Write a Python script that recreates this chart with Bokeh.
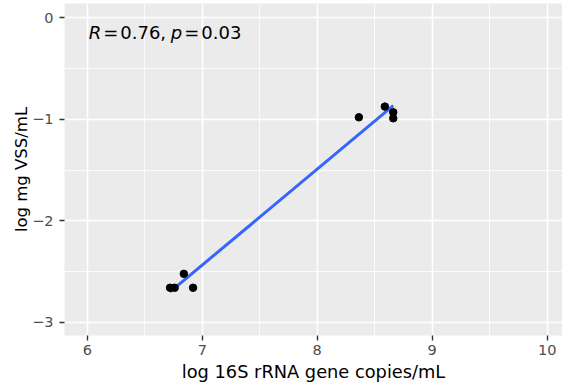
import numpy as np
from bokeh.plotting import figure
from bokeh.models import Range1d, FixedTicker
from bokeh.core.properties import value
from bokeh.embed import file_html
from bokeh.resources import INLINE

# data
x_vals = [6.72, 6.76, 6.84, 6.92, 8.362, 8.588, 8.661, 8.661]
y_vals = [-2.658, -2.658, -2.521, -2.658, -0.980, -0.875, -0.931, -0.990]
x_ticks = [6, 7, 8, 9, 10]
y_ticks = [-3, -2, -1, 0]
x_minor = [6.5, 7.5, 8.5, 9.5]
y_minor = [-2.5, -1.5, -0.5]
stat_parts = ["R", "=", "0.76,", "p", "=", "0.03"]
stat_italic = [True, False, False, True, False, False]

FONT = "DejaVu Sans"

def fmt(t):
    return ("\u2212" + str(abs(t))) if t < 0 else str(t)

p = figure(width=562, height=392, output_backend="svg", toolbar_location=None,
           x_range=Range1d(5.802, 10.133), y_range=Range1d(-3.128, 0.14),
           min_border_left=64, min_border_right=0, min_border_top=3, min_border_bottom=57)
p.outline_line_color = None
p.background_fill_color = "#EBEBEB"
p.border_fill_color = "white"

for g, ticks, minor in ((p.xgrid, x_ticks, x_minor), (p.ygrid, y_ticks, y_minor)):
    g.ticker = FixedTicker(ticks=ticks, minor_ticks=minor)
    g.grid_line_color = "white"
    g.grid_line_width = 1.6
    g.minor_grid_line_color = "white"
    g.minor_grid_line_width = 0.8

p.xaxis.ticker = FixedTicker(ticks=x_ticks)
p.yaxis.ticker = FixedTicker(ticks=y_ticks)
p.xaxis.major_label_overrides = {t: fmt(t) for t in x_ticks}
p.yaxis.major_label_overrides = {t: fmt(t) for t in y_ticks}

for ax in (p.xaxis[0], p.yaxis[0]):
    ax.axis_line_color = None
    ax.minor_tick_line_color = None
    ax.major_tick_in = 0
    ax.major_tick_out = 5
    ax.major_tick_line_color = "#333333"
    ax.major_tick_line_width = 1.4
    ax.major_label_text_font = FONT
    ax.major_label_text_font_size = "14.5px"
    ax.major_label_text_color = "#4D4D4D"
    ax.axis_label_text_font = FONT
    ax.axis_label_text_font_style = "normal"
    ax.axis_label_text_color = "black"

p.xaxis.axis_label = "log 16S rRNA gene copies/mL"
p.xaxis.axis_label_text_font_size = "17.8px"
p.xaxis.major_label_standoff = 4
p.xaxis.axis_label_standoff = 3
p.yaxis.axis_label = "log mg VSS/mL"
p.yaxis.axis_label_text_font_size = "16.5px"
p.yaxis.major_label_standoff = 6
p.yaxis.axis_label_standoff = -2

# linear fit line over the data range
xa = np.array(x_vals)
ya = np.array(y_vals)
slope, intercept = np.polyfit(xa, ya, 1)
xl = np.array([xa.min(), xa.max()])
p.line(xl, slope * xl + intercept, line_color="#3366FF", line_width=3)

p.scatter(x_vals, y_vals, size=7.5, color="black")

# annotation pieces (screen offsets from x=6)
offsets = [1.5, 16, 33, 83.5, 97, 114]
for txt, it, off in zip(stat_parts, stat_italic, offsets):
    p.text(x=[6], y=[-0.15], text=[txt], x_offset=off,
           text_font=value(FONT), text_font_size="18px",
           text_font_style="italic" if it else "normal",
           text_baseline="alphabetic", text_align="left", text_color="black")

open("out.html", "w").write(file_html(p, INLINE))
